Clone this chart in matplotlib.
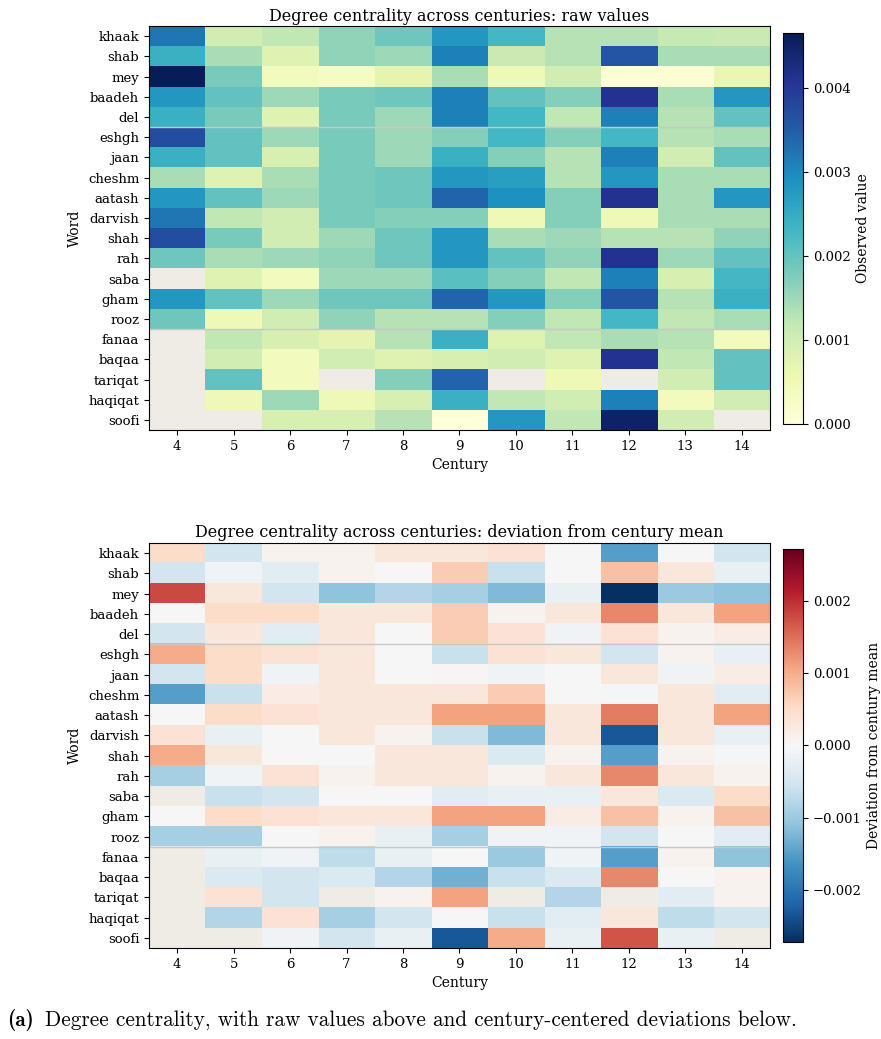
import numpy as np
import matplotlib
matplotlib.use("Agg")
import matplotlib.pyplot as plt

plt.rcParams['font.family'] = ['DejaVu Serif']

words = ['khaak', 'shab', 'mey', 'baadeh', 'del', 'eshgh', 'jaan', 'cheshm', 'aatash', 'darvish',
         'shah', 'rah', 'saba', 'gham', 'rooz', 'fanaa', 'baqaa', 'tariqat', 'haqiqat', 'soofi']
centuries = [4, 5, 6, 7, 8, 9, 10, 11, 12, 13, 14]
nan = np.nan

# degree centrality, raw values (x 1e-3)
raw_vals = [
    [3.2, 1.0, 1.2, 1.6, 1.9, 2.8, 2.3, 1.3, 1.3, 1.15, 1.1],
    [2.4, 1.4, 0.8, 1.6, 1.5, 3.1, 1.1, 1.3, 3.6, 1.4, 1.4],
    [4.65, 1.8, 0.4, 0.3, 0.7, 1.4, 0.5, 1.0, 0.05, 0.1, 0.6],
    [2.8, 2.0, 1.5, 1.8, 1.9, 3.1, 2.0, 1.7, 4.1, 1.4, 2.8],
    [2.4, 1.8, 0.8, 1.8, 1.5, 3.1, 2.3, 1.2, 3.1, 1.3, 2.0],
    [3.7, 2.0, 1.5, 1.8, 1.5, 1.7, 2.3, 1.7, 2.3, 1.3, 1.4],
    [2.4, 2.0, 0.9, 1.8, 1.5, 2.4, 1.7, 1.3, 3.1, 1.0, 2.0],
    [1.4, 0.8, 1.4, 1.8, 1.9, 2.8, 2.7, 1.3, 2.8, 1.4, 1.4],
    [2.8, 2.0, 1.5, 1.8, 1.9, 3.4, 2.9, 1.7, 4.1, 1.4, 2.8],
    [3.2, 1.2, 1.0, 1.8, 1.7, 1.7, 0.5, 1.7, 0.5, 1.4, 1.4],
    [3.7, 1.8, 1.0, 1.5, 1.9, 2.8, 1.4, 1.5, 1.3, 1.3, 1.6],
    [1.9, 1.4, 1.5, 1.6, 1.9, 2.8, 2.0, 1.6, 4.1, 1.5, 2.0],
    [nan, 0.8, 0.4, 1.5, 1.5, 2.1, 1.7, 1.2, 3.1, 0.9, 2.3],
    [2.8, 2.0, 1.5, 1.9, 1.9, 3.4, 2.8, 1.7, 3.6, 1.3, 2.4],
    [1.9, 0.5, 1.0, 1.6, 1.3, 1.3, 1.7, 1.2, 2.3, 1.2, 1.4],
    [nan, 1.2, 0.9, 0.7, 1.3, 2.4, 0.8, 1.2, 1.4, 1.3, 0.4],
    [nan, 1.0, 0.4, 1.0, 0.8, 0.9, 1.0, 0.8, 4.1, 1.2, 2.0],
    [nan, 2.0, 0.4, nan, 1.7, 3.4, nan, 0.5, nan, 1.0, 2.0],
    [nan, 0.5, 1.5, 0.5, 0.9, 2.4, 1.2, 1.0, 3.1, 0.4, 1.0],
    [nan, nan, 0.9, 0.9, 1.3, 0.0, 2.8, 1.2, 4.5, 1.0, nan],
]

# deviation from century mean (x 1e-3)
dev_vals = [
    [0.5, -0.5, 0.1, 0.1, 0.3, 0.3, 0.4, 0.0, -1.5, 0.0, -0.5],
    [-0.5, -0.1, -0.3, 0.1, 0.0, 0.7, -0.6, 0.0, 0.8, 0.3, -0.2],
    [1.8, 0.3, -0.5, -1.1, -0.8, -0.9, -1.2, -0.2, -2.72, -1.0, -1.1],
    [0.0, 0.5, 0.5, 0.3, 0.3, 0.7, 0.1, 0.3, 1.3, 0.3, 1.1],
    [-0.5, 0.3, -0.3, 0.3, 0.0, 0.7, 0.4, -0.1, 0.4, 0.1, 0.2],
    [1.0, 0.5, 0.4, 0.3, 0.0, -0.6, 0.4, 0.3, -0.5, 0.1, -0.2],
    [-0.5, 0.5, -0.1, 0.3, 0.0, 0.03, -0.1, 0.0, 0.3, -0.1, 0.2],
    [-1.5, -0.6, 0.2, 0.3, 0.3, 0.3, 0.7, 0.0, -0.03, 0.3, -0.3],
    [0.0, 0.5, 0.4, 0.3, 0.3, 1.1, 1.1, 0.3, 1.4, 0.3, 1.1],
    [0.4, -0.2, 0.0, 0.3, 0.1, -0.6, -1.2, 0.3, -2.3, 0.3, -0.2],
    [1.0, 0.3, 0.0, 0.0, 0.3, 0.3, -0.4, 0.1, -1.5, 0.1, -0.05],
    [-0.9, -0.1, 0.4, 0.1, 0.3, 0.3, 0.1, 0.3, 1.3, 0.3, 0.1],
    [nan, -0.6, -0.5, 0.0, 0.0, -0.3, -0.2, -0.2, 0.3, -0.4, 0.5],
    [0.0, 0.5, 0.4, 0.3, 0.3, 1.1, 1.1, 0.2, 0.8, 0.1, 0.8],
    [-0.9, -0.9, 0.0, 0.1, -0.2, -0.9, -0.1, -0.1, -0.5, 0.0, -0.3],
    [nan, -0.2, -0.1, -0.7, -0.2, 0.02, -1.0, -0.1, -1.5, 0.1, -1.1],
    [nan, -0.4, -0.5, -0.4, -0.8, -1.3, -0.6, -0.4, 1.3, 0.0, 0.1],
    [nan, 0.4, -0.5, nan, 0.1, 1.1, nan, -0.8, nan, -0.3, 0.1],
    [nan, -0.8, 0.4, -0.9, -0.5, 0.02, -0.6, -0.3, 0.3, -0.7, -0.5],
    [nan, nan, -0.1, -0.5, -0.2, -2.3, 1.0, -0.2, 1.7, -0.2, nan],
]

raw = np.ma.masked_invalid(np.array(raw_vals) * 1e-3)
dev = np.ma.masked_invalid(np.array(dev_vals) * 1e-3)

bad = '#efebe5'
cmap_raw = plt.get_cmap('YlGnBu').copy()
cmap_raw.set_bad(bad)
cmap_dev = plt.get_cmap('RdBu_r').copy()
cmap_dev.set_bad(bad)

fig = plt.figure(figsize=(8.81, 10.39), dpi=100)

ax1 = fig.add_axes([0.1691, 0.5861, 0.7049, 0.3888])
cax1 = fig.add_axes([0.8888, 0.5919, 0.0227, 0.3763])
ax2 = fig.add_axes([0.1691, 0.0876, 0.7049, 0.3898])
cax2 = fig.add_axes([0.8888, 0.0934, 0.0227, 0.3782])

lim = np.abs(dev).max()
panels = [
    (ax1, cax1, raw, cmap_raw, 0, raw.max(), 'Degree centrality across centuries: raw values', 'Observed value'),
    (ax2, cax2, dev, cmap_dev, -lim, lim, 'Degree centrality across centuries: deviation from century mean',
     'Deviation from century mean'),
]

for ax, cax, data, cmap, lo, hi, title, clabel in panels:
    im = ax.imshow(data, cmap=cmap, vmin=lo, vmax=hi, aspect='auto', interpolation='nearest')
    ax.set_xticks(range(len(centuries)))
    ax.set_xticklabels(centuries, fontsize=9.5)
    ax.set_yticks(range(len(words)))
    ax.set_yticklabels(words, fontsize=9.5)
    ax.set_xlabel('Century', fontsize=10)
    ax.set_ylabel('Word', fontsize=10)
    ax.set_title(title, fontsize=11.5, pad=4)
    # group separators
    for y in [4.5, 14.5]:
        ax.axhline(y, color='#c8c8c8', lw=1)
    cb = fig.colorbar(im, cax=cax)
    cb.set_label(clabel, fontsize=10)
    cb.ax.tick_params(labelsize=9.5)

cax1.set_yticks([0.0, 0.001, 0.002, 0.003, 0.004])
cax1.set_yticklabels(['0.000', '0.001', '0.002', '0.003', '0.004'])
cax2.set_yticks([-0.002, -0.001, 0.0, 0.001, 0.002])
cax2.set_yticklabels(['\u22120.002', '\u22120.001', '0.000', '0.001', '0.002'])

# caption
fig.text(0.008, 0.0125, '(a)', fontsize=15.3, family='cmb10', ha='left', va='baseline')
fig.text(0.051, 0.0125, 'Degree centrality, with raw values above and century-centered deviations below.',
         fontsize=15.3, family='cmr10', ha='left', va='baseline')

fig.savefig('out.png', dpi=100)
